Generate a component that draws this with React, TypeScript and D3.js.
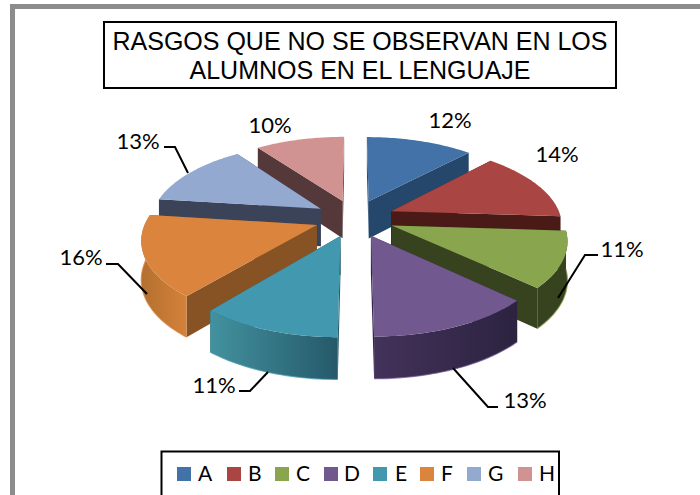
import React from "react";
import * as d3 from "d3";

const categories = ["A", "B", "C", "D", "E", "F", "G", "H"];
const values = [12, 14, 11, 13, 11, 16, 13, 10];
const titleLines = ["RASGOS QUE NO SE OBSERVAN EN LOS", "ALUMNOS EN EL LENGUAJE"];
const titleWidths = [495, 341];

const topColors = ["#4272a8", "#a94542", "#89a54e", "#71588f", "#4198af", "#db843d", "#93a9cf", "#d19392"];
const cutColors = ["#25476b", "#4a1a17", "#37431f", "#33264a", "#265a68", "#875325", "#3a4358", "#54383a"];
const wallLeft = ["#25476b", "#4a1a17", "#37431f", "#43325a", "#43929f", "#b3702f", "#3a4358", "#54383a"];
const wallRight = ["#25476b", "#4a1a17", "#37431f", "#2c2340", "#25596a", "#d5813a", "#3a4358", "#54383a"];
const paintOrder = [7, 0, 6, 1, 5, 2, 4, 3];
const frontSlices = [2, 3, 4, 5];

// chart geometry
const CX = 354.5, CY = 218, R = 170, TILT = 79, PERSP = 0.156, EXPLODE = 0.235, DEPTH = 38;

const labelPos = [
  { x: 450, y: 128 }, { x: 557, y: 162 }, { x: 622, y: 257 }, { x: 525, y: 408 },
  { x: 214, y: 393 }, { x: 81, y: 265 }, { x: 138, y: 149 }, { x: 270, y: 133 },
];
const leaders: ([number, number][] | null)[] = [
  null, null,
  [[558, 298], [585, 255], [598, 255]],
  [[453, 368], [488, 407], [498, 407]],
  [[268, 372], [250, 391], [239, 391]],
  [[147, 294], [118, 264], [106, 264]],
  [[188, 173], [175, 147], [164, 147]],
  null,
];
const legendSwatchX = [177, 227, 275, 324, 373, 420, 467, 518];
const legendTextX = [198, 248, 296, 344, 395, 441, 488, 539];

type P = [number, number];
const pieAngles = d3.pie<number>().sort(null)(values);

function project(x: number, y: number): P {
  const w = 1 + PERSP * y;
  return [CX + (R * x) / w, CY - (TILT * y) / w];
}
const drop = (y: number) => DEPTH - y * 3.5;

function slicePts(a0: number, a1: number) {
  const mid = (a0 + a1) / 2;
  const ox = EXPLODE * Math.sin(mid), oy = EXPLODE * Math.cos(mid);
  const plane = (r: number, a: number): P => [ox + r * Math.sin(a), oy + r * Math.cos(a)];
  const arcAngles = d3.range(0, 41).map((i) => a0 + ((a1 - a0) * i) / 40);
  const arcPlane = arcAngles.map((a) => plane(1, a));
  return { apex: plane(0, 0), arcPlane };
}
const toTop = (p: P) => project(p[0], p[1]);
const toBottom = (p: P): P => {
  const [sx, sy] = project(p[0], p[1]);
  return [sx, sy + drop(p[1])];
};
const line = d3.line<P>().curve(d3.curveLinear);

export default function App() {
  return (
    <svg width={700} height={495} style={{ position: "absolute", left: 0, top: 0, display: "block", background: "#fff" }}>
      <defs>
        {pieAngles.map((d, i) => (
          <linearGradient key={i} id={`wall${i}`} x1="0" x2="1" y1="0" y2="0">
            <stop offset="0" stopColor={wallLeft[i]} />
            <stop offset="1" stopColor={wallRight[i]} />
          </linearGradient>
        ))}
      </defs>
      <path d="M700 6.5H12.5V495" fill="none" stroke="#8c8c8c" strokeWidth={5} />

      <rect x={104} y={22} width={512} height={66} fill="#fff" stroke="#000" strokeWidth={2} />
      {titleLines.map((t, i) => (
        <text
          key={t}
          x={360}
          y={50 + i * 29}
          textAnchor="middle"
          fontFamily="'Liberation Sans'"
          fontSize={26}
          textLength={titleWidths[i]}
          lengthAdjust="spacingAndGlyphs"
          fill="#000"
        >
          {t}
        </text>
      ))}

      <g style={{ filter: "blur(0.5px)" }}>
        {paintOrder.map((i) => {
          const d = pieAngles[i];
          const { apex, arcPlane } = slicePts(d.startAngle, d.endAngle);
          const first = arcPlane[0], last = arcPlane[arcPlane.length - 1];
          const quad = (p: P) => line([toTop(apex), toTop(p), toBottom(p), toBottom(apex)]) + "Z";
          const isFront = frontSlices.includes(i);
          const outer = line([...arcPlane.map(toTop), ...arcPlane.map(toBottom).reverse()]) + "Z";
          const rim = line(arcPlane.map(toBottom)) as string;
          const top = line([toTop(apex), ...arcPlane.map(toTop)]) + "Z";
          return (
            <g key={i}>
              <path d={quad(first)} fill={cutColors[i]} />
              <path d={quad(last)} fill={cutColors[i]} />
              {isFront && <path d={outer} fill={`url(#wall${i})`} />}
              {isFront && <path d={rim} fill="none" stroke={topColors[i]} strokeWidth={1.2} opacity={0.7} />}
              <path d={top} fill={topColors[i]} />
            </g>
          );
        })}
      </g>

      {leaders.map((l, i) =>
        l ? <path key={i} d={line(l) as string} fill="none" stroke="#000" strokeWidth={2} /> : null
      )}
      {values.map((v, i) => (
        <text key={i} x={labelPos[i].x} y={labelPos[i].y} textAnchor="middle" fontFamily="Lato" fontSize={22} fill="#000">
          {v}%
        </text>
      ))}

      <path d="M161.5 495V451.5H559V495" fill="none" stroke="#000" strokeWidth={2} />
      {categories.map((c, i) => (
        <g key={c}>
          <rect x={legendSwatchX[i]} y={467} width={14} height={14} fill={topColors[i]} />
          <text x={legendTextX[i]} y={481} fontFamily="Lato" fontSize={21} fill="#000">
            {c}
          </text>
        </g>
      ))}
    </svg>
  );
}
